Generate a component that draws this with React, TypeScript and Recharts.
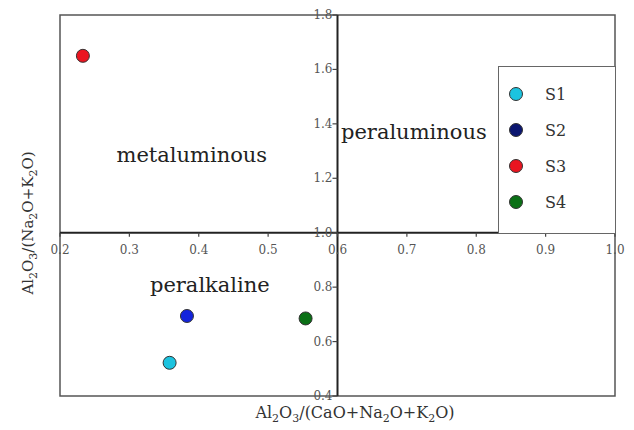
import React from 'react';
import {
  ScatterChart,
  Scatter,
  XAxis,
  YAxis,
  ReferenceLine,
  ReferenceArea,
  ReferenceDot,
  Legend,
  Customized,
} from 'recharts';

const sampleNames = ['S1', 'S2', 'S3', 'S4'];
const acnkValues = [0.358, 0.383, 0.233, 0.554];
const ankValues = [0.522, 0.694, 1.65, 0.685];
const pointColors = ['#1cc3df', '#1424dc', '#ea1520', '#0b7016'];
const legendColors = ['#1cc3df', '#0b1670', '#ea1520', '#0b7016'];

const xTicks = [0.2, 0.3, 0.4, 0.5, 0.6, 0.7, 0.8, 0.9, 1.0];
const yTicks = [0.4, 0.6, 0.8, 1.0, 1.2, 1.4, 1.6, 1.8];

// formula pieces, a leading "_" marks a subscript
const xTitleParts = ['Al', '_2', 'O', '_3', '/(CaO+Na', '_2', 'O+K', '_2', 'O)'];
const yTitleParts = ['Al', '_2', 'O', '_3', '/(Na', '_2', 'O+K', '_2', 'O)'];

const X_CROSS = 0.6;
const Y_CROSS = 1.0;
const FONT = '"DejaVu Serif", "Liberation Serif", serif';

// turn formula pieces into tspans, dropping subscripts and coming back up after
const formula = (parts: string[]) => {
  let shifted = false;
  return parts.map((p, i) => {
    const isSub = p.startsWith('_');
    let dy = 0;
    if (isSub && !shifted) dy = 4;
    if (!isSub && shifted) dy = -4;
    shifted = isSub;
    return (
      <tspan key={i} dy={dy} fontSize={isSub ? 11 : undefined}>
        {isSub ? p.slice(1) : p}
      </tspan>
    );
  });
};

const AxisTitles = () => (
  <g fontFamily={FONT} fill="#333" fontSize={16}>
    <text x={355} y={418} textAnchor="middle">
      {formula(xTitleParts)}
    </text>
    <text x={0} y={0} textAnchor="middle" fontSize={15} transform="translate(33, 223) rotate(-90)">
      {formula(yTitleParts)}
    </text>
  </g>
);

const LegendBox = () => (
  <div
    style={{
      width: '100%',
      height: '100%',
      boxSizing: 'border-box',
      border: '1.5px solid #666',
      background: '#fff',
      position: 'relative',
      fontFamily: FONT,
      fontSize: 16,
      color: '#333',
    }}
  >
    {sampleNames.map((name, i) => (
      <div
        key={name}
        style={{
          position: 'absolute',
          left: 10,
          top: 17 + i * 36,
          display: 'flex',
          alignItems: 'center',
          height: 20,
        }}
      >
        <span
          style={{
            display: 'inline-block',
            width: 12,
            height: 12,
            borderRadius: '50%',
            background: legendColors[i],
            border: '1px solid #333',
          }}
        />
        <span style={{ marginLeft: 22 }}>{name}</span>
      </div>
    ))}
  </div>
);

export default function App() {
  return (
    <div style={{ position: 'absolute', left: 0, top: 0, background: '#fff' }}>
      <ScatterChart
        width={634}
        height={430}
        margin={{ top: 15, right: 19, bottom: 34, left: 60 }}
        style={{ fontFamily: FONT }}
      >
        <XAxis type="number" dataKey="x" domain={[0.2, 1.0]} ticks={xTicks} hide />
        <YAxis type="number" dataKey="y" domain={[0.4, 1.8]} ticks={yTicks} hide />

        <ReferenceArea
          x1={0.2}
          x2={1.0}
          y1={0.4}
          y2={1.8}
          fill="none"
          stroke="#555"
          strokeWidth={1.5}
          ifOverflow="visible"
        />
        <ReferenceLine x={X_CROSS} stroke="#222" strokeWidth={2} ifOverflow="visible" />
        <ReferenceLine y={Y_CROSS} stroke="#222" strokeWidth={2} ifOverflow="visible" />

        {xTicks.map((t) => (
          <ReferenceDot
            key={`xt-${t}`}
            x={t}
            y={Y_CROSS}
            ifOverflow="visible"
            shape={(p: any) => (
              <g>
                <line x1={p.cx} y1={p.cy} x2={p.cx} y2={p.cy + 4} stroke="#444" strokeWidth={1.2} />
                <text x={p.cx} y={p.cy + 21} textAnchor="middle" fontSize={12} fill="#555" fontFamily={FONT}>
                  {t.toFixed(1)}
                </text>
              </g>
            )}
          />
        ))}
        {yTicks.map((t) => (
          <ReferenceDot
            key={`yt-${t}`}
            x={X_CROSS}
            y={t}
            ifOverflow="visible"
            shape={(p: any) => (
              <g>
                <line x1={p.cx - 5} y1={p.cy} x2={p.cx} y2={p.cy} stroke="#444" strokeWidth={1.2} />
                <text x={p.cx - 5} y={p.cy + 4} textAnchor="end" fontSize={12} fill="#555" fontFamily={FONT}>
                  {t.toFixed(1)}
                </text>
              </g>
            )}
          />
        ))}

        <ReferenceDot
          x={0.39}
          y={1.285}
          ifOverflow="visible"
          shape={(p: any) => (
            <text x={p.cx} y={p.cy + 7} textAnchor="middle" fontSize={21} fill="#222" fontFamily={FONT}>
              metaluminous
            </text>
          )}
        />
        <ReferenceDot
          x={0.605}
          y={1.37}
          ifOverflow="visible"
          shape={(p: any) => (
            <text x={p.cx} y={p.cy + 7} textAnchor="start" fontSize={21} fill="#222" fontFamily={FONT}>
              peraluminous
            </text>
          )}
        />
        <ReferenceDot
          x={0.416}
          y={0.808}
          ifOverflow="visible"
          shape={(p: any) => (
            <text x={p.cx} y={p.cy + 7} textAnchor="middle" fontSize={21} fill="#222" fontFamily={FONT}>
              peralkaline
            </text>
          )}
        />

        {sampleNames.map((name, i) => (
          <Scatter
            key={name}
            name={name}
            data={[{ x: acnkValues[i], y: ankValues[i] }]}
            fill={pointColors[i]}
            isAnimationActive={false}
            shape={(p: any) => (
              <circle cx={p.cx} cy={p.cy} r={6.5} fill={pointColors[i]} stroke="#333" strokeWidth={1} />
            )}
          />
        ))}

        <Legend
          layout="vertical"
          align="center"
          verticalAlign="middle"
          content={() => <LegendBox />}
          wrapperStyle={{ left: 498, top: 66, width: 118, height: 168 }}
        />
        <Customized component={AxisTitles} />
      </ScatterChart>
    </div>
  );
}
